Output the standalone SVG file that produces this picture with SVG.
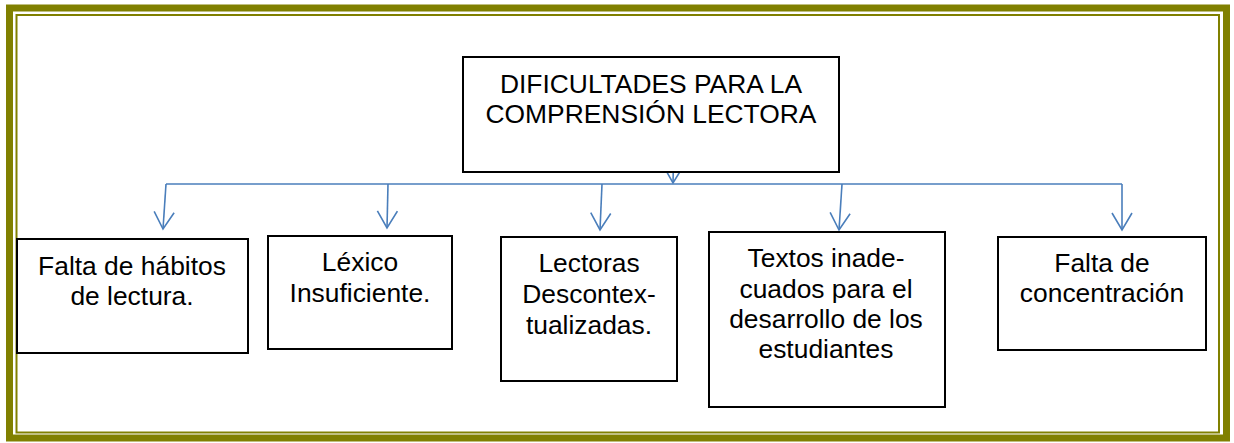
<svg xmlns="http://www.w3.org/2000/svg" width="1234" height="443" viewBox="0 0 1234 443">
<style>
.box{fill:#fff;stroke:#000;stroke-width:2}
.t{font-family:"Liberation Sans",Arial,sans-serif;font-size:26.4px;fill:#000;text-anchor:middle}
.c{fill:none;stroke:#4a7ebb;stroke-width:1.6}
</style>
<defs>
<marker id="ah" markerUnits="userSpaceOnUse" viewBox="-19 -11 21 22" refX="0" refY="0" markerWidth="21" markerHeight="22" orient="auto">
<path d="M-17,-10 L0,0 L-17,10" fill="none" stroke="#4a7ebb" stroke-width="1.6"/>
</marker>
</defs>
<rect x="0" y="0" width="1234" height="443" fill="#fff"/>
<g id="frame">
<rect x="9.5" y="8" width="1217" height="430" fill="none" stroke="#808000" stroke-width="7"/>
<rect x="16.5" y="15" width="1202.5" height="417.5" fill="none" stroke="#808000" stroke-width="2"/>
</g>
<g id="connectors">
<path class="c" d="M674,138 L673,183" marker-end="url(#ah)"/>
<path class="c" d="M166,184 L1122,184"/>
<path class="c" d="M166,184 L163,229" marker-end="url(#ah)"/>
<path class="c" d="M388,184 L387,228" marker-end="url(#ah)"/>
<path class="c" d="M602,184 L600,230" marker-end="url(#ah)"/>
<path class="c" d="M842,184 L839,230" marker-end="url(#ah)"/>
<path class="c" d="M1122,184 L1122,230" marker-end="url(#ah)"/>
</g>
<g id="root">
<rect class="box" x="463" y="57" width="376" height="115"/>
<text class="t" x="651" y="93">DIFICULTADES PARA LA</text>
<text class="t" x="651" y="123">COMPRENSIÓN LECTORA</text>
</g>
<g id="n1">
<rect class="box" x="17" y="239" width="231" height="114"/>
<text class="t" x="132" y="275">Falta de hábitos</text>
<text class="t" x="132" y="305">de lectura.</text>
</g>
<g id="n2">
<rect class="box" x="268" y="236" width="184" height="113"/>
<text class="t" x="360" y="271">Léxico</text>
<text class="t" x="360" y="302">Insuficiente.</text>
</g>
<g id="n3">
<rect class="box" x="501" y="237" width="176" height="144"/>
<text class="t" x="589" y="272">Lectoras</text>
<text class="t" x="589" y="303">Descontex-</text>
<text class="t" x="589" y="334">tualizadas.</text>
</g>
<g id="n4">
<rect class="box" x="709" y="232" width="236" height="175"/>
<text class="t" x="826" y="267">Textos inade-</text>
<text class="t" x="826" y="298">cuados para el</text>
<text class="t" x="826" y="328">desarrollo de los</text>
<text class="t" x="826" y="358">estudiantes</text>
</g>
<g id="n5">
<rect class="box" x="998" y="237" width="208" height="113"/>
<text class="t" x="1102" y="272">Falta de</text>
<text class="t" x="1102" y="302">concentración</text>
</g>
</svg>
